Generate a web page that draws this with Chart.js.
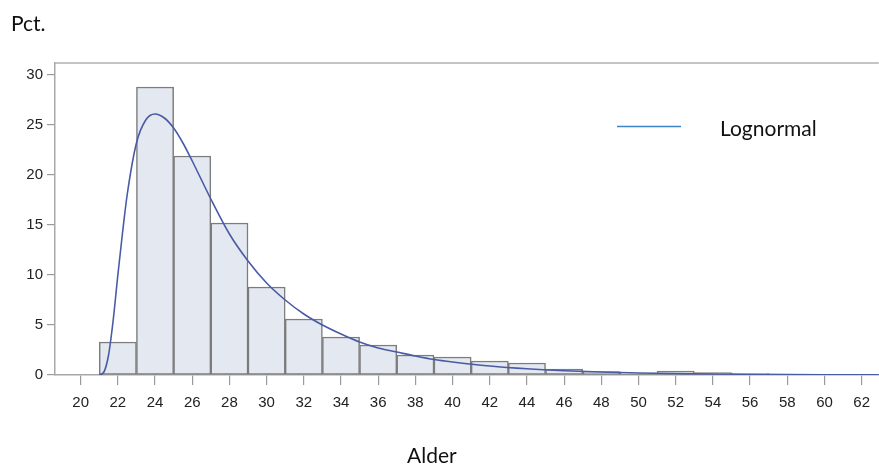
<!DOCTYPE html>
<html>
<head>
<meta charset="utf-8">
<script src="https://cdn.jsdelivr.net/npm/chart.js@4.4.1/dist/chart.umd.min.js"></script>
<style>
  html, body { margin: 0; padding: 0; background: #fff; }
  #wrap { position: relative; width: 879px; height: 465px; }
</style>
</head>
<body>
<div id="wrap"><canvas id="histChart" width="879" height="465"></canvas></div>
<script>
// histogram bins (center of each 2-year bin) and percent
const binCenters = [20, 22, 24, 26, 28, 30, 32, 34, 36, 38, 40, 42, 44, 46, 48, 50, 52, 54, 56, 58, 60, 62];
const binPct = [0, 3.3, 28.8, 21.9, 15.2, 8.8, 5.6, 3.8, 3.0, 2.0, 1.8, 1.4, 1.2, 0.6, 0.35, 0.2, 0.4, 0.25, 0.15, 0.05, 0, 0];

// fitted lognormal curve
const curveX = [21, 21.25, 21.5, 21.75, 22, 22.25, 22.5, 23, 23.5, 24, 24.5, 25, 25.5, 26, 27, 28, 29, 30, 31, 32, 33, 34, 35, 36, 37, 38, 39, 40, 42, 44, 46, 48, 50, 53, 56, 60, 63];
const curvePct = [0, 0.3, 2.0, 5.5, 10.0, 14.2, 18.0, 23.2, 25.5, 26.1, 25.7, 24.7, 23.2, 21.4, 17.6, 14.1, 11.4, 9.2, 7.5, 6.1, 5.0, 4.1, 3.3, 2.7, 2.3, 1.9, 1.55, 1.3, 0.9, 0.62, 0.43, 0.3, 0.2, 0.12, 0.07, 0.03, 0.02];

const xTicks = [20, 22, 24, 26, 28, 30, 32, 34, 36, 38, 40, 42, 44, 46, 48, 50, 52, 54, 56, 58, 60, 62];
const yTicks = [0, 5, 10, 15, 20, 25, 30];

const titleFont = '21px Lato, "Open Sans", sans-serif';
const tickFont = { family: '"Liberation Sans", Arial, sans-serif', size: 15 };

// top frame line, legend and the two axis titles
const decorations = {
  id: 'decorations',
  afterDraw(chart) {
    const ctx = chart.ctx;
    const a = chart.chartArea;
    ctx.save();
    ctx.strokeStyle = '#b0b0b0';
    ctx.lineWidth = 1.5;
    ctx.beginPath();
    ctx.moveTo(a.left, a.top);
    ctx.lineTo(a.right, a.top);
    ctx.stroke();

    ctx.strokeStyle = '#3d85c6';
    ctx.lineWidth = 1.5;
    ctx.beginPath();
    ctx.moveTo(617, 126.5);
    ctx.lineTo(681, 126.5);
    ctx.stroke();

    ctx.fillStyle = '#111';
    ctx.font = titleFont;
    ctx.textBaseline = 'alphabetic';
    ctx.textAlign = 'left';
    ctx.fillText('Lognormal', 720, 136);
    ctx.fillText('Pct.', 11, 31);
    ctx.fillText('Alder', 407, 463);
    ctx.restore();
  }
};

new Chart(document.getElementById('histChart'), {
  data: {
    datasets: [
      {
        type: 'line',
        label: 'Lognormal',
        data: curveX.map((x, i) => ({ x: x, y: curvePct[i] })),
        borderColor: '#4a5ba6',
        borderWidth: 1.6,
        pointRadius: 0,
        cubicInterpolationMode: 'monotone',
        fill: false,
        order: 1
      },
      {
        type: 'bar',
        label: 'Pct.',
        data: binCenters.map((x, i) => ({ x: x, y: binPct[i] })),
        backgroundColor: '#e3e8f1',
        borderColor: '#7c7c7c',
        borderWidth: 1.5,
        borderSkipped: false,
        barPercentage: 1,
        categoryPercentage: 1,
        grouped: false,
        order: 2
      }
    ]
  },
  options: {
    responsive: false,
    animation: false,
    events: [],
    layout: { padding: { top: 63, left: 0, right: 0, bottom: 0 } },
    plugins: {
      legend: { display: false },
      tooltip: { enabled: false }
    },
    scales: {
      x: {
        type: 'linear',
        min: 18.62,
        max: 62.92,
        offset: false,
        afterBuildTicks: (scale) => { scale.ticks = xTicks.map(v => ({ value: v })); },
        afterFit: (scale) => { scale.height = 90; },
        grid: { offset: false, drawOnChartArea: false, drawTicks: true, tickLength: 10, tickColor: '#9a9a9a', lineWidth: 1.2 },
        border: { display: true, color: '#a8a8a8', width: 1.5 },
        ticks: { font: tickFont, color: '#222', padding: 9, autoSkip: false, maxRotation: 0 }
      },
      y: {
        min: 0,
        max: 31.2,
        afterBuildTicks: (scale) => { scale.ticks = yTicks.map(v => ({ value: v })); },
        afterFit: (scale) => { scale.width = 55; },
        grid: { drawOnChartArea: false, drawTicks: true, tickLength: 8, tickColor: '#9a9a9a', lineWidth: 1.2 },
        border: { display: true, color: '#a8a8a8', width: 1.5 },
        ticks: { font: tickFont, color: '#222', padding: 4 }
      }
    }
  },
  plugins: [decorations]
});
</script>
</body>
</html>
